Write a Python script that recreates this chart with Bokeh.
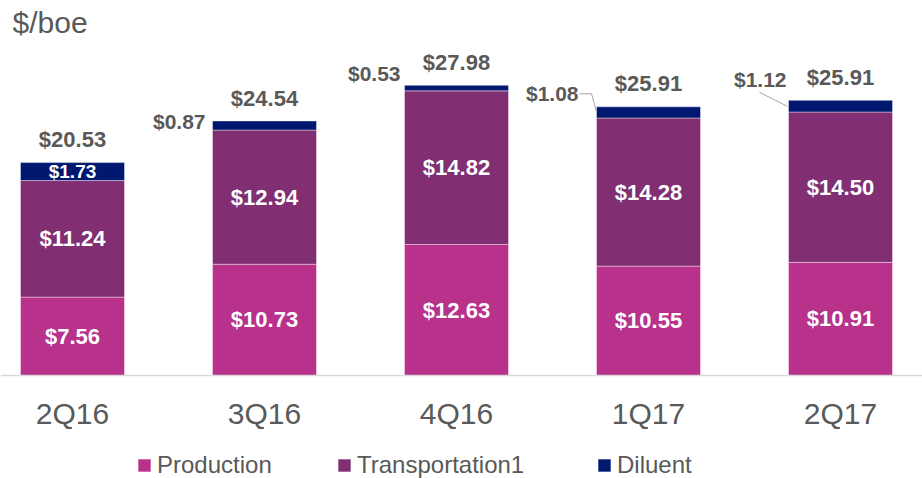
from bokeh.plotting import figure
from bokeh.models import ColumnDataSource, Range1d, LinearAxis, FixedTicker, Legend, LegendItem, Label
from bokeh.core.properties import value
from bokeh.embed import file_html
from bokeh.resources import INLINE

# ---- data ----
categories = ["2Q16", "3Q16", "4Q16", "1Q17", "2Q17"]
production = [7.56, 10.73, 12.63, 10.55, 10.91]
transport = [11.24, 12.94, 14.82, 14.28, 14.50]
diluent = [1.73, 0.87, 0.53, 1.08, 1.12]
total_labels = ["$20.53", "$24.54", "$27.98", "$25.91", "$25.91"]
series_names = ["Production", "Transportation1", "Diluent"]
unit_label = "$/boe"

# ---- style ----
colors = ["#b8318b", "#812f72", "#00186f"]
GRAY = "#595959"
FONT = value("Liberation Sans")
W, H = 922, 478
X0, X1 = -0.375, 4.427
Y0, Y1 = -9.93, 36.16
BW = 0.5417
px_x = W / (X1 - X0)
px_y = H / (Y1 - Y0)

xs = list(range(len(categories)))
src = ColumnDataSource(dict(x=xs, production=production, transport=transport, diluent=diluent))

p = figure(width=W, height=H, x_range=Range1d(X0, X1), y_range=Range1d(Y0, Y1),
           output_backend="svg", toolbar_location=None,
           x_axis_location=None, y_axis_location=None, min_border=0)
p.outline_line_color = None
p.xgrid.visible = False
p.ygrid.visible = False

rends = p.vbar_stack(["production", "transport", "diluent"], x="x", width=BW, color=colors,
                     line_color="white", line_width=0.4, source=src)

# axis at y = 0
ax = LinearAxis(fixed_location=0, ticker=FixedTicker(ticks=xs),
                major_label_overrides={i: c for i, c in enumerate(categories)})
ax.axis_line_color = "#d9d9d9"
ax.axis_line_width = 1.5
ax.major_tick_out = 0
ax.major_tick_in = 0
ax.minor_tick_out = 0
ax.minor_tick_in = 0
ax.major_label_standoff = 21
ax.major_label_text_font = "Liberation Sans"
ax.major_label_text_font_size = "30px"
ax.major_label_text_color = GRAY
p.add_layout(ax, "below")

# inside labels
in_x, in_y, in_t = [], [], []
for i in xs:
    in_x.append(i); in_y.append(production[i] / 2); in_t.append(f"${production[i]:.2f}")
    in_x.append(i); in_y.append(production[i] + transport[i] / 2); in_t.append(f"${transport[i]:.2f}")
p.text(x=in_x, y=in_y, text=in_t, text_font=FONT, text_font_style="bold",
       text_font_size="22px", text_color="white", text_align="center", text_baseline="middle")

diluent_inside = [True, False, False, False, False]
dx_in, dy_in, dt_in = [], [], []
for i in xs:
    if diluent_inside[i]:
        dx_in.append(i); dy_in.append(production[i] + transport[i] + diluent[i] / 2)
        dt_in.append(f"${diluent[i]:.2f}")
p.text(x=dx_in, y=dy_in, text=dt_in, text_font=FONT, text_font_style="bold",
       text_font_size="19px", text_color="white", text_align="center", text_baseline="middle")

# totals
tops = [production[i] + transport[i] + diluent[i] for i in xs]
p.text(x=xs, y=tops, text=total_labels, y_offset=-23, text_font=FONT, text_font_style="bold",
       text_font_size="22px", text_color=GRAY, text_align="center", text_baseline="middle")

# outside diluent labels
dil_dx = [0, -7, -4, -18, -2]
dil_dy = [0, 0, -12, -13, -21]
ox, oy, ot, odx, ody = [], [], [], [], []
for i in xs:
    if not diluent_inside[i]:
        ox.append(i - BW / 2); oy.append(tops[i]); ot.append(f"${diluent[i]:.2f}")
        odx.append(dil_dx[i]); ody.append(dil_dy[i])
p.text(x=ox, y=oy, text=ot, x_offset=odx, y_offset=ody, text_font=FONT, text_font_style="bold",
       text_font_size="21px", text_color=GRAY, text_align="right", text_baseline="middle")

# leader lines (pixel offsets from bar's left/top)
leaders = {3: [(-17, -13), (-5, -13), (0, 5)], 4: [(-29, -8), (-1, 6)]}
lx, ly = [], []
for i, pts in leaders.items():
    lx.append([i - BW / 2 + dx / px_x for dx, dy in pts])
    ly.append([tops[i] - dy / px_y for dx, dy in pts])
p.multi_line(xs=lx, ys=ly, line_color="#a6a6a6", line_width=1)

# unit label
p.add_layout(Label(x=12, y=H - 22, x_units="screen", y_units="screen", text=unit_label,
                   text_font="Liberation Sans", text_font_size="30px", text_color=GRAY,
                   text_baseline="middle"))

# legend: one legend per entry, placed like the reference
legend_x = [136, 336, 596]
for n, r, lxp in zip(series_names, rends, legend_x):
    lg = Legend(items=[LegendItem(label=n, renderers=[r])],
                orientation="horizontal", location=(lxp, -1),
                glyph_width=16, glyph_height=16, label_standoff=5,
                label_text_font="Liberation Sans", label_text_font_size="24px",
                label_text_color=GRAY, padding=0, margin=0,
                border_line_color=None, background_fill_alpha=0)
    p.add_layout(lg)

open("out.html", "w").write(file_html(p, INLINE))
